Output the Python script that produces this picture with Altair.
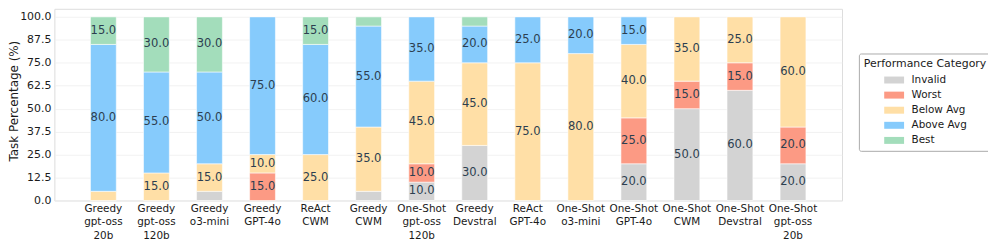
import altair as alt
import pandas as pd

models = ["Greedy\ngpt-oss\n20b", "Greedy\ngpt-oss\n120b", "Greedy\no3-mini", "Greedy\nGPT-4o",
          "ReAct\nCWM", "Greedy\nCWM", "One-Shot\ngpt-oss\n120b", "Greedy\nDevstral",
          "ReAct\nGPT-4o", "One-Shot\no3-mini", "One-Shot\nGPT-4o", "One-Shot\nCWM",
          "One-Shot\nDevstral", "One-Shot\ngpt-oss\n20b"]
categories = ["Invalid", "Worst", "Below Avg", "Above Avg", "Best"]
colors = ["#D3D3D3", "#FC9A84", "#FFDFA6", "#86CBFC", "#A3DDBB"]

invalid = [0, 0, 5, 0, 0, 5, 10, 30, 0, 0, 20, 50, 60, 20]
worst = [0, 0, 0, 15, 0, 0, 10, 0, 0, 0, 25, 15, 15, 20]
below_avg = [5, 15, 15, 10, 25, 35, 45, 45, 75, 80, 40, 35, 25, 60]
above_avg = [80, 55, 50, 75, 60, 55, 35, 20, 25, 20, 15, 0, 0, 0]
best = [15, 30, 30, 0, 15, 5, 0, 5, 0, 0, 0, 0, 0, 0]
y_ticks = [0, 12.5, 25, 37.5, 50, 62.5, 75, 87.5, 100]

series = [invalid, worst, below_avg, above_avg, best]
rows = []
for i, m in enumerate(models):
    for k, (c, vals) in enumerate(zip(categories, series)):
        rows.append({"model": m, "cat": c, "order": k, "value": vals[i]})
df = pd.DataFrame(rows)

FONT = "DejaVu Sans"

base = alt.Chart(df).transform_filter("datum.value > 0").transform_stack(
    stack="value", groupby=["model"], sort=[alt.SortField("order", "ascending")], as_=["y0", "y1"]
).transform_calculate(mid="(datum.y0 + datum.y1) / 2")

y_scale = alt.Scale(domain=[0, 104.4], nice=False, zero=True)
x_scale = alt.Scale(paddingInner=0.513, paddingOuter=0.68)

x_axis = alt.Axis(labelAngle=0, ticks=False, domain=False, labelPadding=3,
                  labelExpr="split(datum.label, '\\n')", labelLineHeight=13.5,
                  labelFontSize=10.5, labelColor="#1a1a1a", labelFont=FONT)
y_axis = alt.Axis(values=y_ticks, format=".1f", ticks=False, domain=False, labelPadding=3.5,
                  labelOverlap=False, labelFontSize=11, labelColor="#1a1a1a", labelFont=FONT,
                  grid=True, gridColor="#eeeeee", gridWidth=0.8,
                  titleFontSize=12, titleFont=FONT, titleColor="#1a1a1a", titleFontWeight="normal",
                  titleX=-46, titleY=92.5, titleAngle=-90, titleBaseline="top", titleAlign="center")

bars = base.mark_bar(stroke="white", strokeWidth=0.8, strokeOpacity=0.7).encode(
    x=alt.X("model:N", sort=models, title=None, scale=x_scale, axis=x_axis),
    y=alt.Y("y0:Q", scale=y_scale, title="Task Percentage (%)", axis=y_axis),
    y2="y1:Q",
    color=alt.Color("cat:N", scale=alt.Scale(domain=categories, range=colors),
                    legend=alt.Legend(orient="none", legendX=810, legendY=45,
                                      title="Performance Category", titleFontSize=11, titleFont=FONT,
                                      titleFontWeight="normal", titleColor="#1a1a1a",
                                      labelFontSize=10.5, labelFont=FONT, labelColor="#1a1a1a",
                                      symbolType="M-1.333,-0.467L1.333,-0.467L1.333,0.467L-1.333,0.467Z",
                                      symbolSize=225, symbolStrokeWidth=0, symbolOpacity=1, padding=5,
                                      strokeColor="#aaa", fillColor="white", cornerRadius=2,
                                      symbolOffset=23, labelOffset=10, rowPadding=2.2, titlePadding=3.2)),
    order=alt.Order("order:Q"),
)

labels = base.transform_filter("datum.value >= 10").mark_text(
    fontSize=11.6, font=FONT, color="#2c3e50", baseline="middle", align="center"
).encode(
    x=alt.X("model:N", sort=models, title=None, scale=x_scale, axis=x_axis),
    y=alt.Y("mid:Q", scale=y_scale, title="Task Percentage (%)", axis=y_axis),
    text=alt.Text("value:Q", format=".1f"),
)

chart = alt.layer(bars, labels).properties(
    width=793, height=193,
    autosize=alt.AutoSizeParams(type="none"),
    padding={"left": 46.7, "top": 0, "right": 147, "bottom": 43},
).configure_view(stroke="#444", strokeWidth=1).configure(font=FONT)

chart.save("out.html", embed_options={"renderer": "svg", "actions": False})
